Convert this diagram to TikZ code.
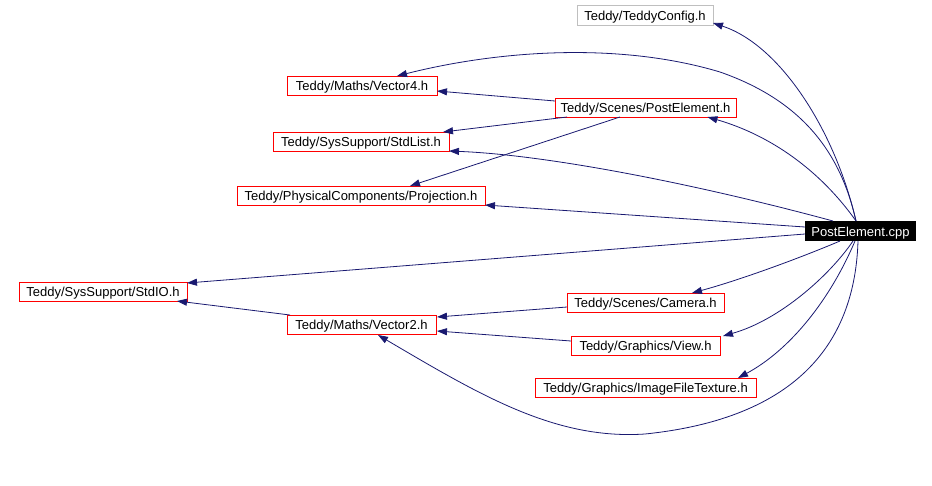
\documentclass[tikz,border=0pt]{standalone}
\usepackage{fontspec}
\setmainfont{Liberation Sans}
\usetikzlibrary{arrows.meta,calc}
\definecolor{edgeblue}{HTML}{191970}
\definecolor{boxred}{HTML}{FF0000}
\definecolor{boxgray}{HTML}{BFBFBF}
\begin{document}
\begin{tikzpicture}[x=1pt,y=-1pt,
  every node/.style={font=\fontsize{13}{15}\selectfont, inner sep=0pt, outer sep=0pt, text height=11.3pt, text depth=1pt},
  filebox/.style={draw=boxred, line width=1pt, minimum height=19pt, anchor=center},
  graybox/.style={draw=boxgray, line width=1pt, minimum height=20pt, anchor=center},
  mainbox/.style={fill=black, text=white, minimum height=20pt, anchor=center},
  dep/.style={draw=edgeblue, line width=0.8pt, -{Triangle[length=10pt,width=7pt]}}]
\useasboundingbox (0,0) rectangle (932,485);
% nodes
\node[graybox, minimum width=136pt] (conf) at (645,15) {Teddy/TeddyConfig.h};
\node[filebox, minimum width=150pt] (v4) at (362,85.5) {Teddy/Maths/Vector4.h};
\node[filebox, minimum width=181pt] (peh) at (645.5,107.5) {Teddy/Scenes/PostElement.h};
\node[filebox, minimum width=176pt] (sl) at (361,141.5) {Teddy/SysSupport/StdList.h};
\node[filebox, minimum width=248pt] (proj) at (361,195.5) {Teddy/PhysicalComponents/Projection.h};
\node[mainbox, minimum width=111pt] (cpp) at (860.5,231) {PostElement.cpp};
\node[filebox, minimum width=168pt] (sio) at (103,291.5) {Teddy/SysSupport/StdIO.h};
\node[filebox, minimum width=149pt] (v2) at (361.5,324.5) {Teddy/Maths/Vector2.h};
\node[filebox, minimum width=157pt] (cam) at (645.5,302.5) {Teddy/Scenes/Camera.h};
\node[filebox, minimum width=149pt] (view) at (645.5,345.5) {Teddy/Graphics/View.h};
\node[filebox, minimum width=221pt] (ift) at (645.5,387.5) {Teddy/Graphics/ImageFileTexture.h};
% edges from PostElement.cpp
\draw[dep] ($(cpp.north)+(-4.5,0)$) .. controls (835,130) and (780,45) .. ($(conf.south east)+(0,-2)$);
\draw[dep] ($(cpp.north)+(-4.5,0)$) .. controls (840,150) and (800,100) .. (720,72)
   .. controls (620,42) and (500,50) .. ($(v4.north)+(35,0)$);
\draw[dep] ($(cpp.north)+(-4.5,0)$) .. controls (820,170) and (770,135) .. ($(peh.south)+(62,0)$);
\draw[dep] ($(cpp.north west)+(28,0)$) .. controls (700,185) and (550,155) .. (sl.south east);
\draw[dep] ($(cpp.west)+(0,-4)$) -- (proj.south east);
\draw[dep] ($(cpp.west)+(0,3)$) -- ($(sio.north east)+(0,1)$);
\draw[dep] ($(cpp.south west)+(35,0)$) .. controls (800,258) and (740,280) .. ($(cam.north)+(46.5,0)$);
\draw[dep] ($(cpp.south west)+(48,0)$) .. controls (830,275) and (780,320) .. ($(view.north east)+(3,0)$);
\draw[dep] ($(cpp.south west)+(50,0)$) .. controls (830,300) and (790,350) .. ($(ift.north)+(92.5,0)$);
\draw[dep] ($(cpp.south west)+(53,0)$) .. controls (855,340) and (800,418) .. (645,434)
   .. controls (555,440) and (480,395) .. ($(v2.south)+(16.5,1)$);
% other edges
\draw[dep] ($(peh.west)+(0,-6.5)$) -- ($(v4.east)+(0,5.5)$);
\draw[dep] ($(peh.south west)+(12,0)$) -- ($(sl.north east)+(-6,0)$);
\draw[dep] ($(peh.south)+(-25.5,0)$) -- ($(proj.north)+(49,0)$);
\draw[dep] ($(cam.west)+(0,4.5)$) -- ($(v2.east)+(1,-7.5)$);
\draw[dep] ($(view.west)+(0,-4.5)$) -- ($(v2.east)+(1,6.5)$);
\draw[dep] ($(v2.north west)+(3,0)$) -- ($(sio.south east)+(-10,0)$);
\end{tikzpicture}
\end{document}
